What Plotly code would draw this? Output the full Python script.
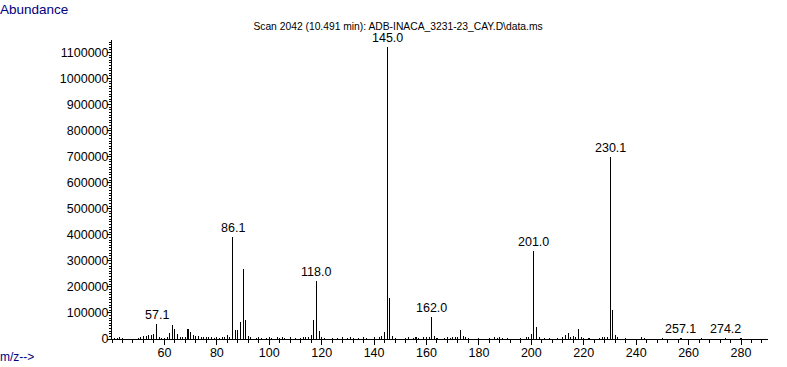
import plotly.graph_objects as go

# ---- data ----
mz = [41, 42, 43, 44, 50, 51, 52, 53, 54, 55, 56, 57.1, 58, 59, 60, 61, 62, 63, 64, 65, 66, 67, 68,
      69, 70, 71, 72, 73, 74, 75, 76, 77, 78, 79, 80, 81, 82, 83, 84, 85, 86.1, 87, 88, 89, 90, 91,
      92, 93, 95, 96, 97, 99, 100, 101, 103, 104, 105, 106, 108, 110, 112, 113, 114, 115, 116, 117,
      118.0, 119, 120, 121, 124, 126, 128, 130, 131, 132, 134, 136, 137, 140, 142, 143, 144, 145.0,
      146, 147, 148, 152, 153, 155, 156, 157, 159, 160, 161, 162.0, 163, 164, 167, 168, 169, 170,
      171, 172, 173, 174, 175, 176, 180, 184, 186, 187, 188, 189, 191, 196, 198, 199, 200, 201.0,
      202, 203, 205, 207, 210, 212, 213, 214, 215, 216, 217, 218, 219, 220, 222, 226, 227, 228, 229,
      230.1, 231, 232, 233, 236, 242, 243, 250, 257.1, 265, 274.2, 280]
abundance = [3000, 2000, 4000, 2000, 3000, 8000, 11000, 11000, 15000, 15000, 18000, 57000, 6000,
             3000, 2000, 5000, 24000, 53000, 38000, 20000, 6000, 5000, 4000,
             37000, 27000, 17000, 10000, 12000, 5000, 4000, 5000, 7000, 4000, 3000, 4000, 3000,
             5000, 4000, 14000, 5000, 390000, 36000, 36000, 65000, 268000, 73000,
             12000, 4000, 3000, 5000, 3000, 3000, 4000, 3000, 4000, 3000, 4000, 3000, 5000, 3000,
             3000, 4000, 5000, 7000, 14000, 73000,
             224000, 32000, 4000, 3000, 3000, 3000, 4000, 3000, 5000, 3000, 3000, 4000, 3000,
             4000, 5000, 10000, 28000, 1120000,
             157000, 12000, 3000, 3000, 4000, 3000, 4000, 3000, 5000, 4000, 6000, 84000, 10000,
             3000, 3000, 4000, 3000, 5000,
             4000, 9000, 34000, 12000, 8000, 3000, 3000, 3000, 4000, 3000, 4000, 3000, 3000,
             3000, 4000, 7000, 20000, 338000,
             45000, 6000, 3000, 3000, 3000, 8000, 14000, 22000, 8000, 12000, 6000, 40000, 8000,
             3000, 3000, 3000, 5000, 6000, 8000,
             699000, 110000, 14000, 4000, 2000, 7000, 3000, 2000, 3000, 2000, 3000, 2000]

peak_labels = ["57.1", "86.1", "118.0", "145.0", "162.0", "201.0", "230.1", "257.1", "274.2"]
label_mz = [57.1, 86.1, 118.0, 145.0, 162.0, 201.0, 230.1, 257.1, 274.2]

y_ticks = list(range(0, 1100001, 100000))
x_ticks = list(range(60, 281, 20))

title_text = "Scan 2042 (10.491 min): ADB-INACA_3231-23_CAY.D\\data.ms"

FONT = "Liberation Sans"
NAVY = "#000080"

fig = go.Figure()
fig.add_trace(go.Bar(x=mz, y=abundance, width=0.02,
                     marker=dict(color="black", line=dict(width=0)),
                     hoverinfo="x+y"))

ab_lookup = dict(zip(mz, abundance))
for lab, m in zip(peak_labels, label_mz):
    fig.add_annotation(x=m, y=ab_lookup[m], text=lab, showarrow=False,
                       yanchor="bottom", yshift=0,
                       font=dict(family=FONT, size=12.5, color="black"))

fig.add_annotation(xref="paper", yref="paper", x=-114/656, y=1 + 31/299,
                   text="Abundance", showarrow=False, xanchor="left", yanchor="middle",
                   font=dict(family=FONT, size=13.5, color=NAVY))
fig.add_annotation(xref="paper", yref="paper", x=-114/656, y=-18/299,
                   text="m/z-->", showarrow=False, xanchor="left", yanchor="middle",
                   font=dict(family=FONT, size=12, color=NAVY))

fig.update_layout(
    width=787, height=367,
    margin=dict(l=112, r=19, t=40, b=28),
    paper_bgcolor="white", plot_bgcolor="white",
    showlegend=False, bargap=0,
    title=dict(text=title_text, x=398/787, xref="container", xanchor="center",
               y=1 - 26/367, yref="container", yanchor="middle",
               font=dict(family=FONT, size=10.3, color="black")),
    font=dict(family=FONT, size=12, color="black"),
)
fig.update_xaxes(range=[40, 290.3], tickvals=x_ticks, ticks="outside", ticklen=5,
                 tickcolor="black", showline=True, linecolor="black", linewidth=1,
                 showgrid=False, zeroline=False, automargin=False, ticklabelstandoff=-3,
                 minor=dict(dtick=4, tick0=0, ticks="outside", ticklen=3, tickcolor="black"),
                 tickfont=dict(family=FONT, size=12.5, color="black"))
fig.update_yaxes(range=[0, 1148000], tickvals=y_ticks, tickformat="d", ticks="outside",
                 ticklen=4, tickcolor="black", showline=True, linecolor="black", linewidth=1,
                 showgrid=False, zeroline=False, ticklabelstandoff=-4, automargin=False,
                 minor=dict(dtick=10000, tick0=0, ticks="outside", ticklen=2, tickcolor="black"),
                 tickfont=dict(family=FONT, size=12.5, color="black"))

fig.write_html("out.html", config={"displayModeBar": False},
               post_script="document.body.style.margin='0px';")
